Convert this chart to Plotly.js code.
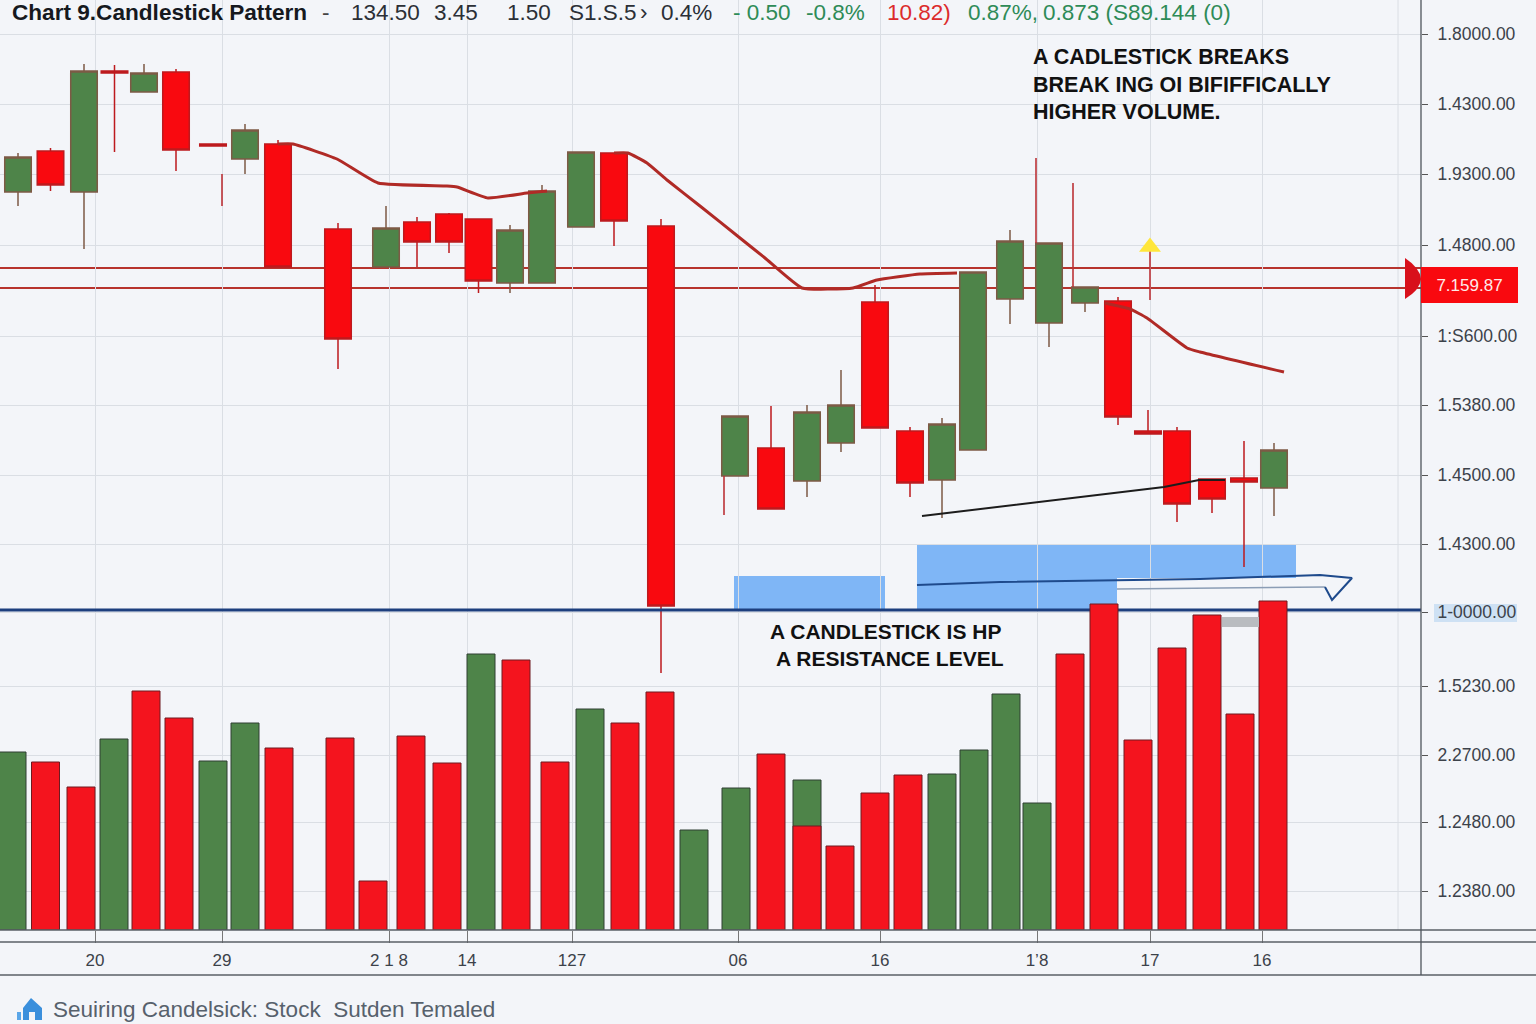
<!DOCTYPE html>
<html>
<head>
<meta charset="utf-8">
<script src="https://cdn.plot.ly/plotly-3.0.1.min.js"></script>
<style>html,body{margin:0;padding:0;background:#f3f5f9}#chart{width:1536px;height:1024px}</style>
</head>
<body>
<div id="chart"></div>
<script>
// ---------- data ----------
const candleX = [18,50.5,84,114.5,144,176,213,245,278,338,386,417,449,478.5,510,542,581,614,661,735,771,807,841,875,910,942,973,1010,1049,1085,1118,1148,1177,1212,1244,1274];
const candleOpen  = [1708,1749,1708,1829,1808,1828,1756,1741,1756,1671,1633,1678,1686,1681,1617,1617,1673,1747,1674,1424,1452,1419,1457,1598,1469,1420,1450,1601,1577,1597,1599,1469,1469,1421,1422,1412];
const candleClose = [1743,1715,1829,1827,1827,1750,1754,1770,1633,1561,1672,1658,1658,1619,1670,1709,1748,1679,1294,1484,1391,1488,1495,1472,1417,1476,1628,1659,1657,1613,1483,1466,1396,1401,1418,1450];
const candleHigh  = [1747,1752,1836,1835,1836,1831,1756,1776,1760,1677,1694,1683,1687,1681,1675,1715,1748,1747,1681,1484,1494,1495,1530,1615,1473,1482,1628,1670,1657,1613,1603,1490,1473,1421,1459,1457];
const candleLow   = [1694,1709,1651,1748,1808,1729,1754,1726,1633,1531,1633,1633,1647,1607,1607,1617,1673,1654,1227,1424,1391,1403,1448,1472,1403,1382,1450,1576,1553,1588,1475,1466,1378,1387,1333,1384];

// stray wicks that stand beside their candles
const needleX = [222,222,null,724,724,null,1036,1036,null,1073,1073,null,1150,1150];
const needleY = [1726,1694,null,1424,1385,null,1742,1657,null,1717,1613,null,1650,1600];

const volGreenX = [12,114,213,245,481,590,694,736,807,942,974,1006,1037];
const volGreen  = [178,191,169,207,276,221,100,142,150,156,180,236,127];
const volRedX = [45.5,81,146,179,279,340,373,411,447,516,555,625,660,771,807,840,875,908,1070,1104,1138,1172,1207,1240,1273];
const volRed  = [168,143,239,212,182,192,49,194,167,270,168,207,238,176,104,84,137,155,276,326,190,282,315,216,329];

const maX = [278,293,337,378,447,457,488,527,547,null,614,628,647,667,700,740,765,802,853,877,920,957,null,1105,1130,1147,1187,1200,1284];
const maY = [1756,1756,1741,1717,1714,1713,1702,1707,1709,null,1747,1747,1737,1720,1694,1662,1642,1612,1612,1620,1626,1627,null,1597,1591,1582,1552,1548,1528];

const trendX = [922,1164,1199,1225];
const trendY = [1384,1413,1420,1420];

const arrowX = [917,1000,1200,1320,1352,1332,1325];
const arrowY = [1315,1318,1321,1325,1322,1300,1313];
const arrowThinX = [1117,1325];
const arrowThinY = [1311,1313];

const resistanceLevels = [1632,1612];
const supportLevel = 1290;

const zoneX0 = [734,917,917];
const zoneX1 = [885,1296,1117];
const zoneTop = [1324,1356,1322];
const zoneBottom = [1290,1322,1290];

const signalX = [1150];
const signalY = [1653];

const priceTickVals = [1866,1796,1726,1655,1564,1495,1425,1356,1288,1214,1145,1078,1009];
const priceTickText = ['1.8000.00','1.4300.00','1.9300.00','1.4800.00','1:S600.00','1.5380.00','1.4500.00','1.4300.00','1-0000.00','1.5230.00','2.2700.00','1.2480.00','1.2380.00'];
const timeTickVals = [95,222,389,467,572,738,880,1037,1150,1262];
const timeTickText = ['20','29','2 1 8','14','127','06','16','1\u20198','17','16'];
const lastGridTime = 1398;

const headerTexts = ['-','134.50','3.45','1.50','S1.S.5','\u203a','0.4%','- 0.50','-0.8%','10.82)','0.87%,','0.873 (S89.144 (0)'];
const titleText = 'Chart 9.Candlestick Pattern';
const noteTop = ['A CADLESTICK BREAKS','BREAK ING OI BIFIFFICALLY','HIGHER VOLUME.'];
const noteBottom = ['A CANDLESTICK IS HP',' A RESISTANCE LEVEL'];
const priceFlag = '7.159.87';
const footerText = 'Seuiring Candelsick: Stock  Sutden Temaled';

// ---------- layout helpers ----------
const PW = 1421, PH = 930;
const fx = x => x / PW;
const fy = y => 1 - y / PH;
const RED = '#f9090f', GREEN = '#4e8449', INK = '#3c424a';
const SANS = '"Liberation Sans",Arimo,sans-serif';

const headerX = [322,351,434,507,569,640,661,733,806,887,968,1043];
const headerCol = ['#444','#2b2f36','#2b2f36','#2b2f36','#2b2f36','#2b2f36','#2b2f36','#2e8b57','#2e8b57','#dc2b2b','#2e8b57','#2e8b57'];

function note(text, x, y, size, color, opts) {
  return Object.assign({xref:'paper',yref:'paper',x:fx(x),y:fy(y),text:text,showarrow:false,borderpad:0,borderwidth:0,
    xanchor:'left',yanchor:'middle',align:'left',font:{family:SANS,size:size,color:color}}, opts||{});
}
const annotations = [];
headerTexts.forEach((t,i)=>annotations.push(note(t,headerX[i],0,22.5,headerCol[i],{yanchor:'top'})));
annotations.push(note('<b>'+titleText+'</b>',12,0,22.6,'#16191e',{yanchor:'top'}));
const noteTopY=[57,85,112];
noteTop.forEach((t,i)=>annotations.push(note('<b>'+t+'</b>',1033,noteTopY[i],21.5,'#111')));
const noteBottomX=[770,776], noteBottomY=[631,658];
noteBottom.forEach((t,i)=>annotations.push(note('<b>'+t.trim()+'</b>',noteBottomX[i],noteBottomY[i],21,'#111')));
annotations.push(note(priceFlag,1469.5,284.5,17,'#ffe9e9',{xanchor:'center',bgcolor:RED,width:97,height:36,align:'center',valign:'middle'}));
annotations.push(note(footerText,53,1010,22.5,'#57616c'));

const shapes = [];
resistanceLevels.forEach(v=>shapes.push({type:'line',layer:'below',xref:'x',yref:'y',x0:0,x1:PW,y0:v,y1:v,line:{color:'#b7332d',width:2.2}}));
zoneX0.forEach((x,i)=>shapes.push({type:'rect',layer:'below',xref:'x',yref:'y',x0:x,x1:zoneX1[i],y0:zoneBottom[i],y1:zoneTop[i],fillcolor:'#7fb6f6',line:{width:0}}));
shapes.push({type:'rect',layer:'below',xref:'paper',yref:'paper',x0:fx(1434),x1:fx(1517),y0:fy(604),y1:fy(622),fillcolor:'rgba(170,205,240,0.5)',line:{width:0}});
shapes.push({type:'line',layer:'below',xref:'x',yref:'paper',x0:lastGridTime,x1:lastGridTime,y0:0,y1:1,line:{color:'#dadee4',width:1}});
[930,942,975].forEach(y=>shapes.push({type:'line',xref:'paper',yref:'paper',x0:0,x1:fx(1536),y0:fy(y),y1:fy(y),line:{color:'#5a5f66',width:1.3}}));
shapes.push({type:'line',xref:'paper',yref:'paper',x0:1,x1:1,y0:1,y1:fy(975),line:{color:'#4e545b',width:1.3}});
shapes.push({type:'path',xref:'paper',yref:'paper',fillcolor:'#d8101b',line:{width:0},
  path:`M${fx(1405)},${fy(258)} Q${fx(1420)},${fy(268)} ${fx(1421)},${fy(279)} Q${fx(1420)},${fy(290)} ${fx(1405)},${fy(299)} Z`});
shapes.push({type:'rect',xref:'x',yref:'y',x0:1222,x1:1259,y0:1273,y1:1283,fillcolor:'#b9bcc0',line:{width:0}});
// footer house icon
shapes.push({type:'path',xref:'paper',yref:'paper',fillcolor:'#3a8fdc',line:{width:0},
  path:`M${fx(23)},${fy(1008)} L${fx(31)},${fy(998)} L${fx(42)},${fy(1008)} L${fx(42)},${fy(1020)} L${fx(35)},${fy(1020)} L${fx(35)},${fy(1012)} L${fx(29)},${fy(1012)} L${fx(29)},${fy(1020)} L${fx(23)},${fy(1020)} Z`});
shapes.push({type:'rect',xref:'paper',yref:'paper',x0:fx(17),x1:fx(21),y0:fy(1012),y1:fy(1020),fillcolor:'#5aa6e8',line:{width:0}});

// ---------- traces ----------
const traces = [
  {type:'bar',x:volGreenX,y:volGreen,yaxis:'y2',width:28,marker:{color:GREEN,line:{color:'#2f3f33',width:1}},hoverinfo:'skip'},
  {type:'bar',x:volRedX,y:volRed,yaxis:'y2',width:28,marker:{color:'#f4141e',line:{color:'#6e1a20',width:1}},hoverinfo:'skip'},
  {type:'candlestick',x:candleX,open:candleOpen,high:candleHigh,low:candleLow,close:candleClose,
    increasing:{fillcolor:GREEN,line:{color:'#7d5a45',width:1.5}},
    decreasing:{fillcolor:RED,line:{color:'#bd1a1e',width:1.5}},hoverinfo:'skip'},
  {type:'scatter',mode:'lines',x:needleX,y:needleY,line:{color:'#bb3236',width:1.6},hoverinfo:'skip'},
  {type:'scatter',mode:'lines',x:maX,y:maY,connectgaps:false,line:{color:'#b02a26',width:3,shape:'spline',smoothing:0.4},hoverinfo:'skip'},
  {type:'scatter',mode:'lines',x:trendX,y:trendY,line:{color:'#1c1c1c',width:2},hoverinfo:'skip'},
  {type:'scatter',mode:'lines',x:[0,1431],y:[supportLevel,supportLevel],cliponaxis:false,line:{color:'#1d3f7e',width:2.8},hoverinfo:'skip'},
  {type:'scatter',mode:'lines',x:arrowThinX,y:arrowThinY,line:{color:'#8b9db5',width:1.5},hoverinfo:'skip'},
  {type:'scatter',mode:'lines',x:arrowX,y:arrowY,line:{color:'#1e4a8c',width:2},hoverinfo:'skip'},
  {type:'scatter',mode:'markers',x:signalX,y:signalY,marker:{symbol:'triangle-up',size:19,color:'#ffe63a'},hoverinfo:'skip'}
];

const layout = {
  width:1536,height:1024,margin:{l:0,r:115,t:0,b:94,pad:0},
  paper_bgcolor:'#f3f5f9',plot_bgcolor:'#f3f5f9',
  showlegend:false,barmode:'overlay',boxgap:0.085,boxgroupgap:0,dragmode:false,
  font:{family:SANS,color:INK},
  xaxis:{range:[0,PW],type:'linear',tickmode:'array',tickvals:timeTickVals,ticktext:timeTickText,
    showgrid:true,gridcolor:'#dadee4',gridwidth:1,zeroline:false,showline:false,
    ticks:'outside',ticklen:12,tickcolor:'#777',ticklabelstandoff:3,tickfont:{size:17,color:INK,family:SANS},
    rangeslider:{visible:false},fixedrange:true},
  yaxis:{range:[970,1900],domain:[0,1],side:'right',tickmode:'array',tickvals:priceTickVals,ticktext:priceTickText,
    showgrid:true,gridcolor:'#dadee4',gridwidth:1,zeroline:false,showline:false,
    ticks:'outside',ticklen:6,tickcolor:'#555',ticklabelstandoff:6,tickfont:{size:17.5,color:INK,family:SANS},fixedrange:true},
  yaxis2:{range:[0,930],domain:[0,1],overlaying:'y',side:'right',visible:false,fixedrange:true},
  shapes:shapes,annotations:annotations
};
Plotly.newPlot('chart',traces,layout,{displayModeBar:false,staticPlot:true});
</script>
</body>
</html>
